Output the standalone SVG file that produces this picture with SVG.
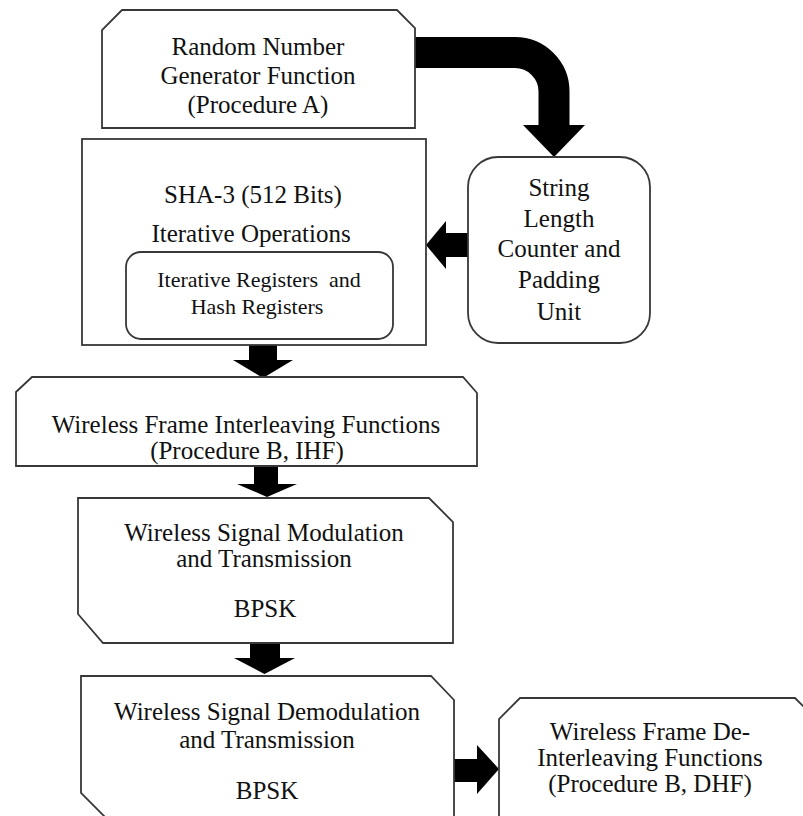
<svg xmlns="http://www.w3.org/2000/svg" width="803" height="816" viewBox="0 0 803 816">
<style>
.box{fill:#fff;stroke:#383838;stroke-width:1.8}
.t{font-family:'Liberation Serif','DejaVu Serif','Times New Roman',serif;font-size:25px;fill:#111;text-anchor:middle}
.s{font-size:22px}
.arr{fill:#000}
</style>
<rect width="803" height="816" fill="#fff"/>
<g id="connectors">
<path d="M415,52.5 H515 A39,39 0 0 1 554,91.5 V126" fill="none" stroke="#000" stroke-width="31"/>
<polygon class="arr" points="523,125 585,125 554,157"/>
<rect class="arr" x="445" y="233" width="24" height="24"/>
<polygon class="arr" points="446,221 446,269 426,245"/>
<rect class="arr" x="249" y="344" width="28" height="17"/>
<polygon class="arr" points="233,360 293,360 263,378"/>
<rect class="arr" x="254" y="466" width="24" height="19"/>
<polygon class="arr" points="237,484 297,484 267,497"/>
<rect class="arr" x="250" y="643" width="30" height="16"/>
<polygon class="arr" points="234,658 295,658 264.5,674"/>
<rect class="arr" x="454" y="759" width="24" height="23"/>
<polygon class="arr" points="477,745 477,794 499,769"/>
</g>
<g id="rng">
<path class="box" d="M122,10 H397 L415,28 V128 H102 V30 Z"/>
<text class="t" x="258" y="55">Random Number</text>
<text class="t" x="258" y="84">Generator Function</text>
<text class="t" x="258" y="113">(Procedure A)</text>
</g>
<g id="sha3">
<rect class="box" x="82" y="139" width="344" height="206"/>
<text class="t" x="253" y="203">SHA-3 (512 Bits)</text>
<text class="t" x="251" y="242">Iterative Operations</text>
</g>
<g id="registers">
<rect class="box" x="126" y="252" width="267" height="87" rx="15"/>
<text class="t s" x="259" y="287" xml:space="preserve">Iterative Registers  and</text>
<text class="t s" x="257" y="314">Hash Registers</text>
</g>
<g id="padding">
<rect class="box" x="468" y="157" width="182" height="186" rx="30"/>
<text class="t" x="559" y="196">String</text>
<text class="t" x="559" y="227">Length</text>
<text class="t" x="559" y="257">Counter and</text>
<text class="t" x="559" y="288">Padding</text>
<text class="t" x="559" y="320">Unit</text>
</g>
<g id="interleave">
<path class="box" d="M32,377 H463 L477,393 V466 H16 V392 Z"/>
<text class="t" x="246" y="433">Wireless Frame Interleaving Functions</text>
<text class="t" x="247" y="459">(Procedure B, IHF)</text>
</g>
<g id="modulation">
<path class="box" d="M78,498 H429 L453,522 V643 H103 L78,614 Z"/>
<text class="t" x="264" y="541">Wireless Signal Modulation</text>
<text class="t" x="264" y="567">and Transmission</text>
<text class="t" x="265" y="617">BPSK</text>
</g>
<g id="demodulation">
<path class="box" d="M81,676 H431 L454,700 V830 H118 L81,793 Z"/>
<text class="t" x="267" y="720">Wireless Signal Demodulation</text>
<text class="t" x="267" y="748">and Transmission</text>
<text class="t" x="267" y="799">BPSK</text>
</g>
<g id="deinterleave">
<path class="box" d="M520,698 H795 L815,718 V830 H499 V719 Z"/>
<text class="t" x="650" y="740">Wireless Frame De-</text>
<text class="t" x="650" y="766">Interleaving Functions</text>
<text class="t" x="650" y="792">(Procedure B, DHF)</text>
</g>
</svg>
